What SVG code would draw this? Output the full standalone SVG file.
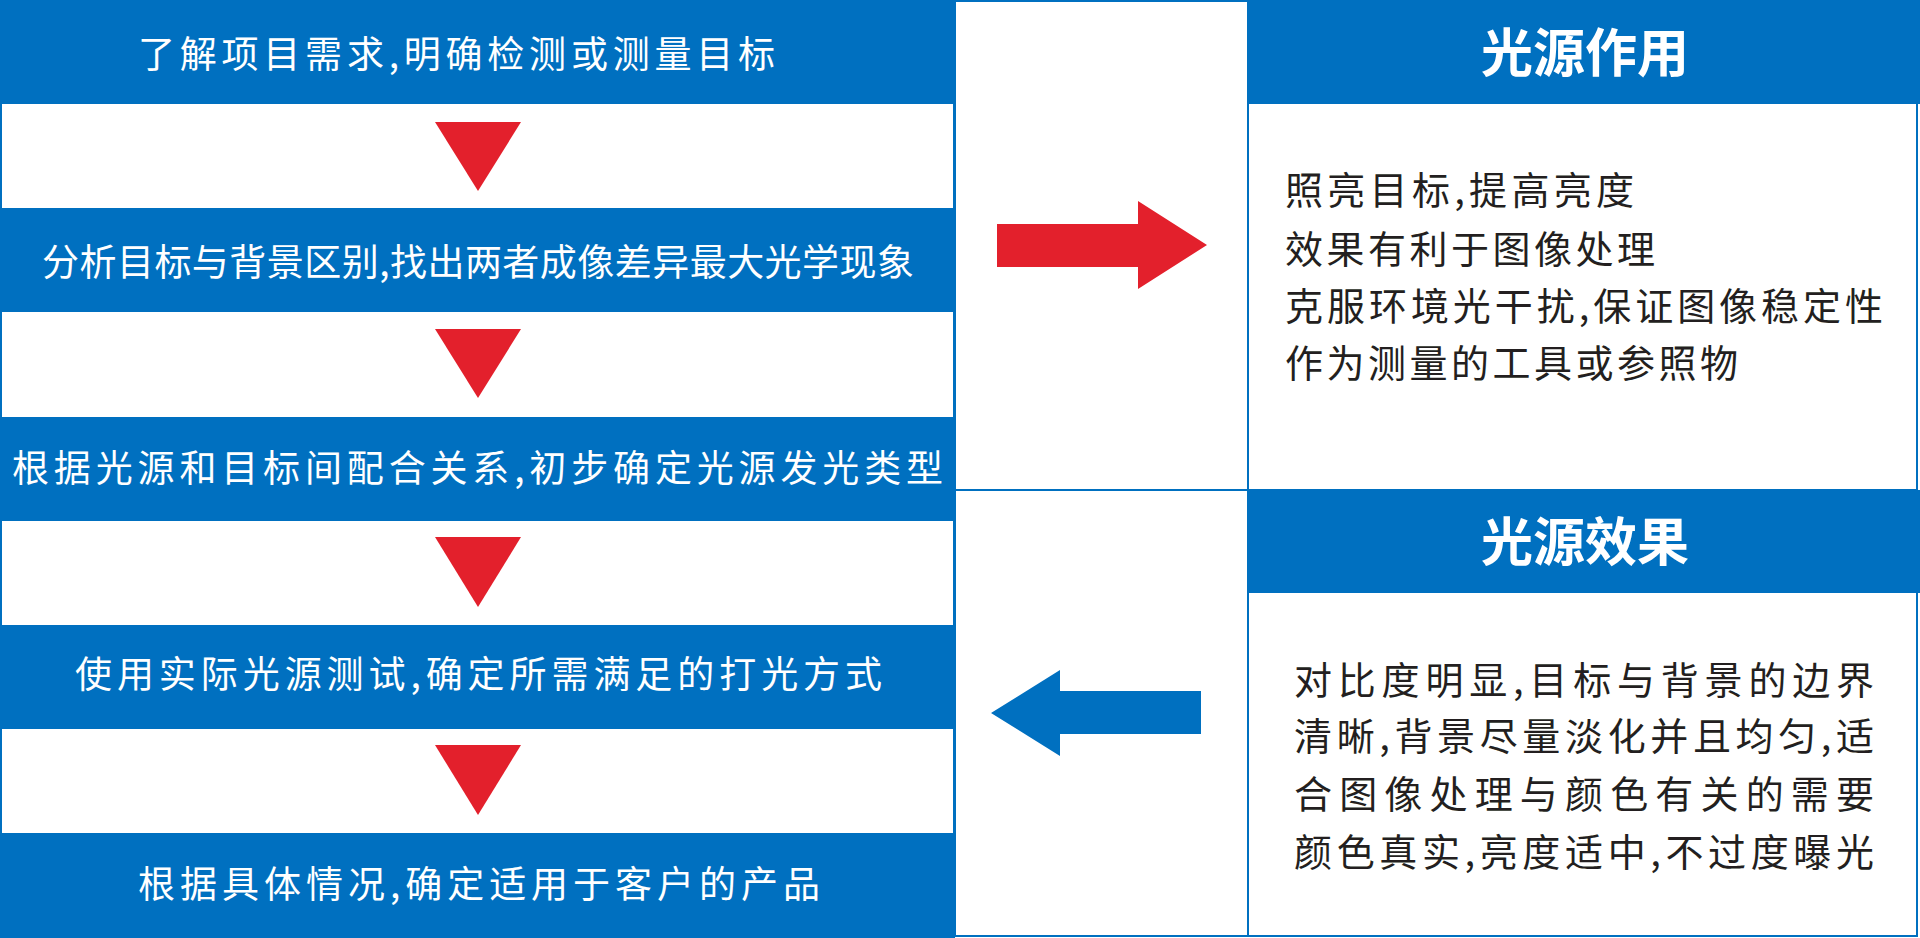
<svg xmlns="http://www.w3.org/2000/svg" width="1920" height="938" viewBox="0 0 1920 938">
<style>
.band{fill:#0070c0;}
.box{fill:#ffffff;stroke:#0070c0;stroke-width:2;}
.wt{fill:#ffffff;font-family:"Noto Sans CJK SC","Noto Sans",sans-serif;font-size:37px;}
.bt{fill:#231f20;font-family:"Noto Sans CJK SC","Noto Sans",sans-serif;font-size:38px;}
.ht{fill:#ffffff;font-family:"Noto Sans CJK SC","Noto Sans",sans-serif;font-size:52px;font-weight:700;text-anchor:middle;}
.tri{fill:#e3202c;}
.red{fill:#e3202c;}
.blue{fill:#0070c0;}
</style>
<rect x="0" y="0" width="1920" height="938" fill="#ffffff"/>
<g id="left-column">
<rect class="box" x="1" y="1" width="953" height="936"/>
</g>
<g id="middle-column">
<rect class="box" x="955" y="1" width="293" height="935"/>
<line x1="955" y1="490" x2="1248" y2="490" stroke="#0070c0" stroke-width="2"/>
</g>
<g id="step1">
<rect class="band" x="0" y="0" width="955" height="104"/>
<text class="wt" x="138" y="68" textLength="637" lengthAdjust="spacing">了解项目需求,明确检测或测量目标</text>
</g>
<g id="step2">
<rect class="band" x="0" y="208" width="955" height="104"/>
<text class="wt" x="42" y="276" textLength="872" lengthAdjust="spacing">分析目标与背景区别,找出两者成像差异最大光学现象</text>
</g>
<g id="step3">
<rect class="band" x="0" y="417" width="955" height="104"/>
<text class="wt" x="12" y="482" textLength="931" lengthAdjust="spacing">根据光源和目标间配合关系,初步确定光源发光类型</text>
</g>
<g id="step4">
<rect class="band" x="0" y="625" width="955" height="104"/>
<text class="wt" x="75" y="688" textLength="807" lengthAdjust="spacing">使用实际光源测试,确定所需满足的打光方式</text>
</g>
<g id="step5">
<rect class="band" x="0" y="833" width="955" height="105"/>
<text class="wt" x="138" y="898" textLength="682" lengthAdjust="spacing">根据具体情况,确定适用于客户的产品</text>
</g>
<g id="light-role">
<rect class="box" x="1248" y="1" width="669" height="489"/>
<rect class="band" x="1248" y="0" width="672" height="104"/>
<text class="ht" x="1585" y="72">光源作用</text>
<text class="bt" x="1285" y="204" textLength="349" lengthAdjust="spacing">照亮目标,提高亮度</text>
<text class="bt" x="1285" y="263" textLength="370" lengthAdjust="spacing">效果有利于图像处理</text>
<text class="bt" x="1285" y="320" textLength="598" lengthAdjust="spacing">克服环境光干扰,保证图像稳定性</text>
<text class="bt" x="1285" y="377" textLength="453" lengthAdjust="spacing">作为测量的工具或参照物</text>
</g>
<g id="light-effect">
<rect class="box" x="1248" y="490" width="669" height="446"/>
<rect class="band" x="1248" y="490" width="672" height="103"/>
<text class="ht" x="1585" y="561">光源效果</text>
<text class="bt" x="1294" y="694" textLength="580" lengthAdjust="spacing">对比度明显,目标与背景的边界</text>
<text class="bt" x="1294" y="750" textLength="580" lengthAdjust="spacing">清晰,背景尽量淡化并且均匀,适</text>
<text class="bt" x="1294" y="808" textLength="580" lengthAdjust="spacing">合图像处理与颜色有关的需要</text>
<text class="bt" x="1294" y="866" textLength="580" lengthAdjust="spacing">颜色真实,亮度适中,不过度曝光</text>
</g>
<g id="connectors">
<polygon class="tri" points="435,122 521,122 478,191"/>
<polygon class="tri" points="435,329 521,329 478,398"/>
<polygon class="tri" points="435,537 521,537 478,607"/>
<polygon class="tri" points="435,745 521,745 478,815"/>
<polygon class="red" points="997,224 1138,224 1138,201 1207,245 1138,289 1138,267 997,267"/>
<polygon class="blue" points="1201,691 1060,691 1060,670 991,713 1060,756 1060,734 1201,734"/>
</g>
</svg>
